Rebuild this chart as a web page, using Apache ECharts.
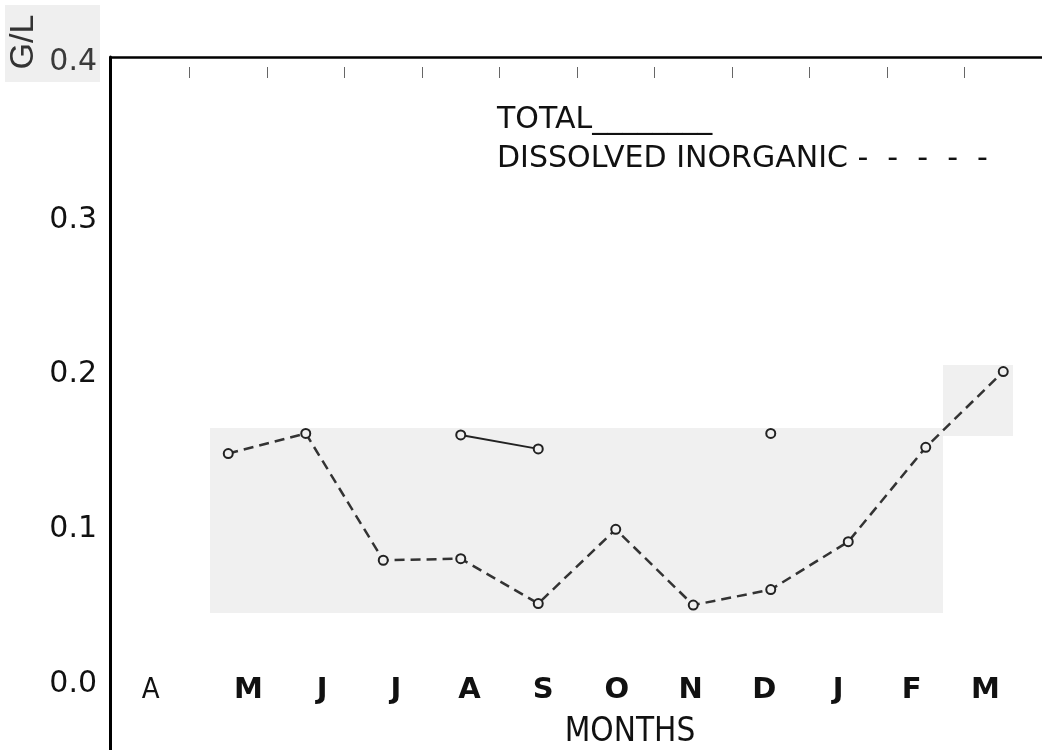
<!DOCTYPE html>
<html>
<head>
<meta charset="utf-8">
<script src="https://cdn.jsdelivr.net/npm/echarts@6/dist/echarts.min.js"></script>
<style>
html,body{margin:0;padding:0;background:#fff;}
#chart{width:1042px;height:750px;}
</style>
</head>
<body>
<div id="chart"></div>
<script>
// ---- data ----
const months = ['A','M','J','J','A','S','O','N','D','J','F','M'];
const monthLetters = ['M','J','J','A','S','O','N','D','J','F','M'];
const dissolvedInorganic = [null, 0.149, 0.162, 0.080, 0.081, 0.052, 0.100, 0.051, 0.061, 0.092, 0.153, 0.202];
const totalValues = [null, null, null, null, 0.161, 0.152, null, null, 0.162, null, null, null];
const yTickValues = [0, 0.1, 0.2, 0.3, 0.4];
const yAxisTitle = 'G/L';
const xAxisTitle = 'MONTHS';
const legendTotal = 'TOTAL________';
const legendDissolved = 'DISSOLVED INORGANIC -  -  -  -  -';

const narrowFont = "'DejaVu Sans Condensed', 'Liberation Sans', sans-serif";

const chart = echarts.init(document.getElementById('chart'), null, {renderer: 'canvas'});

const option = {
  backgroundColor: '#ffffff',
  animation: false,
  grid: [
    {left: 112, top: 57, width: 934, height: 693, containLabel: false},
    {left: 211.6, top: 580, width: 810.7, height: 95.5, containLabel: false}
  ],
  xAxis: [
    {
      type: 'category', gridIndex: 0, data: months, position: 'bottom',
      boundaryGap: true,
      axisLine: {show: false, onZero: false},
      axisTick: {show: false},
      splitLine: {show: false},
      axisLabel: {
        margin: -74.5,
        fontFamily: narrowFont,
        fontSize: 29,
        color: '#111',
        formatter: function (v, i) { return i === 0 ? v : ''; }
      }
    },
    {
      type: 'category', gridIndex: 0, data: months, position: 'top',
      boundaryGap: true,
      axisLine: {show: true, onZero: false, lineStyle: {color: '#000', width: 2.5}},
      axisTick: {show: false},
      axisLabel: {show: false},
      splitLine: {show: false}
    },
    {
      type: 'category', gridIndex: 0, data: months, position: 'top', offset: -10,
      boundaryGap: true,
      axisLine: {show: false, onZero: false},
      axisTick: {
        show: true, inside: true, length: 11,
        interval: function (i) { return i !== 0; },
        lineStyle: {color: '#666', width: 1}
      },
      axisLabel: {show: false},
      splitLine: {show: false}
    },
    {
      type: 'category', gridIndex: 1, data: monthLetters, position: 'bottom',
      boundaryGap: true,
      axisLine: {show: false, onZero: false},
      axisTick: {show: false},
      splitLine: {show: false},
      axisLabel: {
        margin: 0,
        fontFamily: 'DejaVu Sans',
        fontWeight: 'bold',
        fontSize: 29,
        color: '#111'
      }
    }
  ],
  yAxis: [
    {
      type: 'value', gridIndex: 0, min: -0.0427, max: 0.4054, offset: 2,
      axisLine: {show: true, onZero: false, lineStyle: {color: '#000', width: 3}},
      axisTick: {show: false},
      splitLine: {show: false},
      axisLabel: {
        customValues: yTickValues,
        margin: 13,
        fontFamily: 'DejaVu Sans',
        fontSize: 30,
        color: '#111',
        formatter: function (v) {
          const s = Number(v).toFixed(1);
          return Math.abs(v - 0.4) < 1e-9 ? '{top|' + s + '}' : s;
        },
        rich: {
          top: {fontFamily: 'DejaVu Sans', fontSize: 30, color: '#3a3a3a', padding: [0, 0, 6, 0]}
        }
      }
    },
    {
      type: 'value', gridIndex: 1, show: false
    }
  ],
  graphic: [
    {type: 'rect', z: -1, shape: {x: 210, y: 428, width: 733, height: 185}, style: {fill: '#f0f0f0'}},
    {type: 'rect', z: -1, shape: {x: 943, y: 365, width: 70, height: 71}, style: {fill: '#f0f0f0'}},
    {type: 'rect', z: -1, shape: {x: 5, y: 5, width: 95, height: 77}, style: {fill: '#efefef'}},
    {
      type: 'text', x: 24, y: 42, rotation: Math.PI / 2,
      style: {text: yAxisTitle, fontFamily: 'Liberation Sans', fontSize: 34, fill: '#333', align: 'center', verticalAlign: 'middle'}
    },
    {
      type: 'text', x: 497, y: 120,
      style: {text: legendTotal, fontFamily: 'DejaVu Sans', fontSize: 30, fill: '#111', align: 'left', verticalAlign: 'middle'}
    },
    {
      type: 'text', x: 497, y: 159,
      style: {text: legendDissolved, fontFamily: 'DejaVu Sans', fontSize: 30, fill: '#111', align: 'left', verticalAlign: 'middle'}
    },
    {
      type: 'text', x: 630, y: 732,
      style: {text: xAxisTitle, fontFamily: narrowFont, fontSize: 33, fill: '#111', align: 'center', verticalAlign: 'middle'}
    }
  ],
  series: [
    {
      name: 'DISSOLVED INORGANIC', type: 'line', xAxisIndex: 0, yAxisIndex: 0,
      data: dissolvedInorganic,
      showAllSymbol: true, connectNulls: false,
      symbol: 'circle', symbolSize: 9,
      lineStyle: {color: '#333', width: 2.5, type: [10, 6]},
      itemStyle: {color: '#f0f0f0', borderColor: '#222', borderWidth: 2},
      z: 3
    },
    {
      name: 'TOTAL', type: 'line', xAxisIndex: 0, yAxisIndex: 0,
      data: totalValues,
      showAllSymbol: true, connectNulls: false,
      symbol: 'circle', symbolSize: 9,
      lineStyle: {color: '#222', width: 2},
      itemStyle: {color: '#f0f0f0', borderColor: '#222', borderWidth: 2},
      z: 3
    }
  ]
};
chart.setOption(option);
</script>
</body>
</html>
